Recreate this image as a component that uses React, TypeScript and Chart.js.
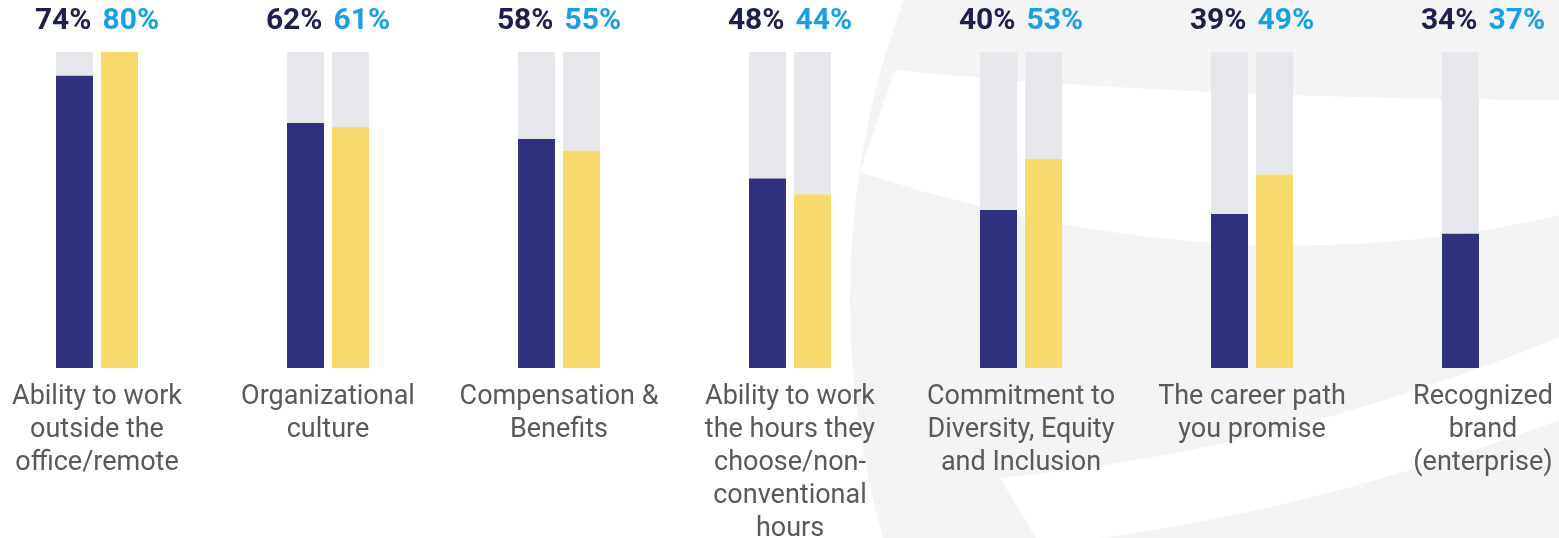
import React, { useEffect, useRef } from "react";
import { Chart, registerables } from "chart.js";
Chart.register(...registerables);

const categories: string[][] = [
  ["Ability to work", "outside the", "office/remote"],
  ["Organizational", "culture"],
  ["Compensation &", "Benefits"],
  ["Ability to work", "the hours they", "choose/non-", "conventional", "hours"],
  ["Commitment to", "Diversity, Equity", "and Inclusion"],
  ["The career path", "you promise"],
  ["Recognized", "brand", "(enterprise)"],
];
const darkValues = [74, 62, 58, 48, 40, 39, 34];
const yellowValues = [80, 61, 55, 44, 53, 49, 37];
const yellowBarShown = [true, true, true, true, true, true, false];
const scaleMax = 80;

const NAVY_BAR = "#2f307e";
const YELLOW_BAR = "#f6da6e";
const GRAY_BAR = "#e6e7eb";
const NAVY_TEXT = "#1d1f4e";
const BLUE_TEXT = "#19a0e3";
const LABEL_GRAY = "#58595b";

const CANVAS_LEFT = -30;
const CANVAS_W = 1650;
const CANVAS_H = 538;

const watermarkPlugin = {
  id: "watermark",
  beforeDraw(chart: any) {
    const ctx = chart.ctx as CanvasRenderingContext2D;
    ctx.save();
    ctx.translate(-CANVAS_LEFT, 0);
    ctx.beginPath();
    ctx.ellipse(1440, 300, 590, 720, 0, 0, Math.PI * 2);
    ctx.fillStyle = "#f4f4f5";
    ctx.fill();
    ctx.clip();
    ctx.fillStyle = "#ffffff";
    // upper swoosh band
    ctx.beginPath();
    ctx.moveTo(895, 70);
    ctx.quadraticCurveTo(1200, 100, 1600, 100);
    ctx.lineTo(1600, 205);
    ctx.quadraticCurveTo(1250, 300, 860, 172);
    ctx.closePath();
    ctx.fill();
    // lower swoosh band
    ctx.beginPath();
    ctx.moveTo(1000, 478);
    ctx.quadraticCurveTo(1300, 450, 1600, 320);
    ctx.lineTo(1600, 405);
    ctx.quadraticCurveTo(1300, 520, 1040, 545);
    ctx.closePath();
    ctx.fill();
    ctx.restore();
  },
};

const valueLabelPlugin = {
  id: "valueLabels",
  afterDatasetsDraw(chart: any) {
    const ctx = chart.ctx as CanvasRenderingContext2D;
    const xs = chart.scales.x;
    ctx.save();
    ctx.font = "bold 30px Roboto";
    ctx.textBaseline = "middle";
    ctx.textAlign = "left";
    const gap = 11;
    darkValues.forEach((d, i) => {
      const cx = xs.getPixelForValue(i);
      const t1 = d + "%";
      const t2 = yellowValues[i] + "%";
      const w1 = ctx.measureText(t1).width;
      const w2 = ctx.measureText(t2).width;
      const start = cx - (w1 + gap + w2) / 2;
      ctx.fillStyle = NAVY_TEXT;
      ctx.fillText(t1, start, 21);
      ctx.fillStyle = BLUE_TEXT;
      ctx.fillText(t2, start + w1 + gap, 21);
    });
    ctx.restore();
  },
};

export default function App() {
  const ref = useRef<HTMLCanvasElement | null>(null);
  useEffect(() => {
    if (!ref.current) return;
    const chart = new Chart(ref.current, {
      type: "bar",
      data: {
        labels: categories,
        datasets: [
          {
            label: "dark",
            data: darkValues,
            backgroundColor: NAVY_BAR,
            stack: "a",
          },
          {
            label: "dark rest",
            data: darkValues.map((v) => scaleMax - v),
            backgroundColor: GRAY_BAR,
            stack: "a",
          },
          {
            label: "yellow",
            data: yellowValues.map((v, i) => (yellowBarShown[i] ? v : null)),
            backgroundColor: YELLOW_BAR,
            stack: "b",
          },
          {
            label: "yellow rest",
            data: yellowValues.map((v, i) => (yellowBarShown[i] ? scaleMax - v : null)),
            backgroundColor: GRAY_BAR,
            stack: "b",
          },
        ],
      },
      options: {
        animation: false,
        responsive: false,
        devicePixelRatio: 1,
        events: [],
        datasets: {
          bar: {
            categoryPercentage: 0.3896,
            barPercentage: 0.822,
            borderWidth: 0,
          },
        },
        layout: { padding: { left: 11.5, right: 21.5, top: 52, bottom: 0 } },
        plugins: {
          legend: { display: false },
          tooltip: { enabled: false },
          title: { display: false },
        },
        scales: {
          x: {
            stacked: true,
            border: { display: false },
            grid: { display: false, drawTicks: false, tickLength: 0 },
            ticks: {
              autoSkip: false,
              maxRotation: 0,
              minRotation: 0,
              padding: 13,
              color: LABEL_GRAY,
              font: { family: "Roboto", size: 27, lineHeight: 1.2222 },
            },
            afterFit: (s: any) => {
              s.height = 170;
            },
          },
          y: {
            display: false,
            stacked: true,
            min: 0,
            max: scaleMax,
          },
        },
      },
      plugins: [watermarkPlugin, valueLabelPlugin],
    } as any);
    return () => chart.destroy();
  }, []);
  return (
    <div
      style={{
        position: "fixed",
        left: 0,
        top: 0,
        width: 1559,
        height: 538,
        overflow: "hidden",
        background: "#ffffff",
      }}
    >
      <canvas
        ref={ref}
        width={CANVAS_W}
        height={CANVAS_H}
        style={{ position: "absolute", left: CANVAS_LEFT, top: 0, width: CANVAS_W, height: CANVAS_H }}
      />
    </div>
  );
}
